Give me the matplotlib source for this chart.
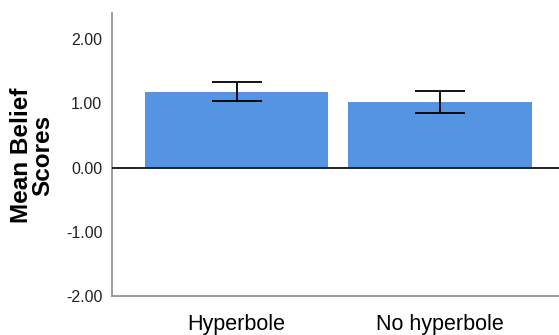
import numpy as np
import matplotlib
matplotlib.use('Agg')
import matplotlib.pyplot as plt

plt.rcParams['font.family'] = ['Liberation Sans', 'DejaVu Sans']

categories = ['Hyperbole', 'No hyperbole']
means = [1.18, 1.02]
err_low = [1.03, 0.85]
err_high = [1.33, 1.195]
yticks = [-2, -1, 0, 1, 2]

fig = plt.figure(figsize=(5.59, 3.35), dpi=100)
ax = fig.add_axes([112 / 559, 1 - 296 / 335, 447 / 559, 283 / 335])

x = np.arange(len(categories))
m = np.array(means)
yerr = np.array([m - np.array(err_low), np.array(err_high) - m])

ax.bar(x, m, width=0.9, color='#5594e3', zorder=2)
ax.errorbar(x, m, yerr=yerr, fmt='none', ecolor='black', elinewidth=1.3,
            capsize=18, capthick=1.3, zorder=3)
ax.axhline(0, color='#222222', linewidth=1.4, zorder=4)

ax.set_xlim(-0.612, 1.585)
ax.set_ylim(-2, 2.405)
ax.set_yticks(yticks)
ax.set_yticklabels([f'{v:.2f}' for v in yticks], fontsize=11.5)
ax.set_xticks(x)
ax.set_xticklabels(categories, fontsize=15.5)
ax.tick_params(axis='y', length=0, pad=7, colors='#222222')
ax.tick_params(axis='x', length=0, pad=13, colors='black')

for s in ['top', 'right']:
    ax.spines[s].set_visible(False)
for s in ['left', 'bottom']:
    ax.spines[s].set_color('#8c8c8c')
    ax.spines[s].set_linewidth(1.2)

fig.text(32 / 559, 1 - 155 / 335, 'Mean Belief\nScores', rotation=90,
         ha='center', va='center', fontsize=17.5, fontweight='bold',
         linespacing=0.9)

fig.savefig('out.png', dpi=100)
